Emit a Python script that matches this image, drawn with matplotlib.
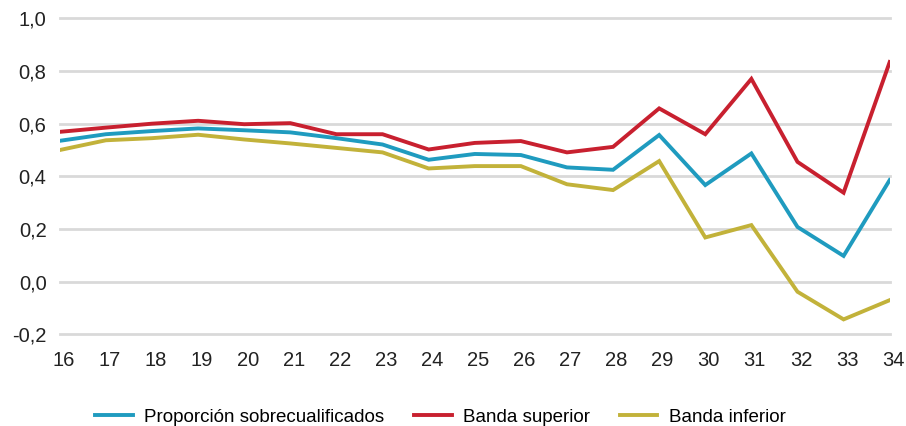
import matplotlib
matplotlib.use('Agg')
import matplotlib.pyplot as plt
import matplotlib.transforms as mtransforms
from matplotlib.ticker import FuncFormatter

plt.rcParams['font.family'] = ['Liberation Sans', 'DejaVu Sans']

# datos
edades = list(range(16, 35))
proporcion = [0.535, 0.560, 0.572, 0.582, 0.575, 0.567, 0.545, 0.521, 0.463, 0.485,
              0.481, 0.434, 0.425, 0.557, 0.367, 0.487, 0.208, 0.098, 0.386]
banda_sup = [0.569, 0.585, 0.600, 0.611, 0.598, 0.602, 0.560, 0.560, 0.502, 0.527,
             0.534, 0.491, 0.512, 0.658, 0.560, 0.770, 0.455, 0.338, 0.834]
banda_inf = [0.500, 0.537, 0.545, 0.558, 0.540, 0.525, 0.508, 0.491, 0.430, 0.439,
             0.439, 0.370, 0.348, 0.458, 0.168, 0.215, -0.038, -0.143, -0.070]
etiquetas = ['Proporción sobrecualificados', 'Banda superior', 'Banda inferior']
colores = ['#1f9bbf', '#c8202f', '#c2b23a']
yticks = [-0.2, 0.0, 0.2, 0.4, 0.6, 0.8, 1.0]

fig = plt.figure(figsize=(9.06, 4.26), dpi=100)
ax = fig.add_axes([0.066, 0.215, 0.916, 0.742])

for y in yticks:
    ax.axhline(y, color='#d9d9d9', lw=2, zorder=0, clip_on=False)

for serie, nombre, color in zip([proporcion, banda_sup, banda_inf], etiquetas, colores):
    ax.plot(edades, serie, color=color, lw=2.8, label=nombre, solid_joinstyle='miter')

ax.set_xlim(16, 34)
ax.set_ylim(-0.2, 1.0)
ax.set_xticks(edades)
ax.set_yticks(yticks)
ax.yaxis.set_major_formatter(FuncFormatter(lambda v, p: ('%.1f' % v).replace('.', ',')))
ax.tick_params(axis='both', length=0, labelsize=14.5, colors='#222222')
ax.tick_params(axis='y', pad=9.5)
ax.tick_params(axis='x', pad=12)
for s in ax.spines.values():
    s.set_visible(False)

# las etiquetas del eje x van un poco a la derecha en el original
desplaz = mtransforms.ScaledTranslation(3.5 / 100, 0, fig.dpi_scale_trans)
for lab in ax.get_xticklabels():
    lab.set_transform(lab.get_transform() + desplaz)

fig.legend(loc='center', bbox_to_anchor=(0.486, 0.021), ncol=3, frameon=False,
           fontsize=13.5, handlelength=2.0, columnspacing=1.6, handletextpad=0.6)

fig.savefig('out.png', dpi=100)
